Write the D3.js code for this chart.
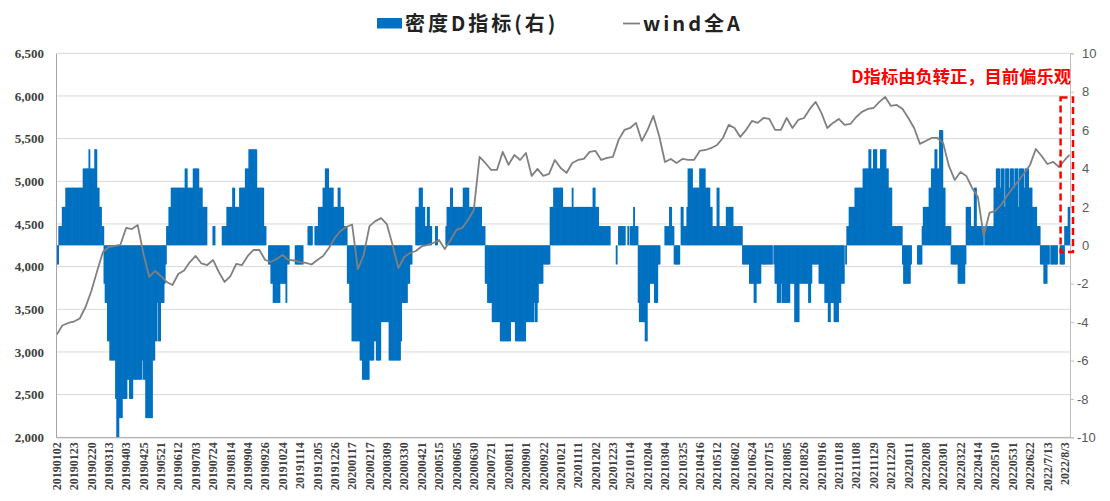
<!DOCTYPE html>
<html><head><meta charset="utf-8">
<script src="https://cdn.jsdelivr.net/npm/d3@7"></script>
<style>body{margin:0;background:#fff;}svg{display:block}</style>
</head><body><svg id="c" width="1110" height="501"></svg>
<script>
// ---- data ----
const tickLabels = ["20190102","20190123","20190220","20190313","20190403","20190425","20190521","20190612","20190703","20190724","20190814","20190904","20190926","20191024","20191114","20191205","20191226","20200117","20200217","20200309","20200330","20200421","20200515","20200605","20200630","20200721","20200811","20200901","20200922","20201021","20201111","20201202","20201223","20210114","20210204","20210304","20210325","20210416","20210512","20210602","20210624","20210715","20210805","20210826","20210916","20211018","20211108","20211129","20211220","20220111","20220208","20220301","20220322","20220414","20220510","20220531","20220622","2022/7/13","2022/8/3"];
const tickEvery = 15;          // one label every 15 trading days
const leftTicks = [2000,2500,3000,3500,4000,4500,5000,5500,6000,6500];
const rightTicks = [-10,-8,-6,-4,-2,0,2,4,6,8,10];

// 密度D指标 daily values, stored as runs [value, number of days]
const dRuns = [
[-1,2],[1,3],[2,3],[3,15],[4,5],[5,1],[4,4],[5,2],[3,2],[2,2],[1,2],
[-2,1],[-3,2],[-5,2],[-6,5],[-8,1],[-10,2],[-9,3],[-8,4],[-7,2],[-8,3],[-7,8],[-6,1],[-7,2],[-9,6],[-6,2],[-5,2],[-3,1],[-5,2],[-3,3],[-2,1],[-1,1],
[1,2],[2,2],[3,12],[4,2],[3,5],[4,5],[3,3],[2,4],[0,5],[1,2],[0,6],
[1,4],[2,5],[3,2],[2,4],[3,5],[4,3],[5,7],[3,6],[1,2],[0,2],
[-1,2],[-2,2],[-3,6],[-2,5],[-3,1],[-1,2],[0,5],[-1,7],[0,4],[1,4],[0,2],
[1,3],[2,4],[3,2],[4,3],[3,4],[2,4],[3,2],[2,3],[1,3],
[-2,2],[-3,2],[-5,7],[-6,2],[-7,6],[-6,4],[-5,2],[-6,4],[-4,7],[-6,10],[-5,1],[-3,5],[-2,2],[-1,2],
[0,3],[2,3],[3,3],[2,2],[1,2],[2,2],[1,2],[0,3],[1,2],[0,7],[1,1],[2,3],[3,2],[2,9],[3,5],[2,11],[1,3],
[-2,2],[-3,4],[-4,7],[-5,9],[-4,4],[-5,9],[-4,7],[-3,1],[-4,2],[-3,1],[-2,4],[-1,6],
[2,3],[3,8],[2,8],[3,1],[2,17],[3,2],[2,3],[1,10],[0,5],[-1,1],[0,1],[1,6],[0,2],[1,1],[0,1],[1,3],[2,1],[1,3],
[-3,1],[-4,5],[-5,2],[-3,2],[-2,4],[-3,3],[-1,2],[0,4],
[1,4],[2,2],[1,2],[-1,5],[0,1],[2,2],[1,3],[2,1],[4,4],[3,6],[4,5],[3,4],[2,2],[1,4],[3,2],[1,6],[2,6],[1,8],
[-1,6],[-2,4],[-3,2],[-2,4],[-1,10],[0,1],[-1,1],[-2,2],[-3,3],[-2,1],[-3,7],[-2,4],[-4,4],[-2,8],[-3,2],[-2,1],[-1,6],[-2,5],[-3,3],[-4,2],[-3,3],[-4,4],[-3,2],[-2,3],[0,1],[-1,1],
[1,2],[2,5],[3,7],[4,5],[5,2],[4,2],[5,3],[4,3],[5,5],[4,2],[3,3],[1,9],
[-1,1],[-2,6],[-1,1],[0,5],[-1,4],[1,1],[2,5],[3,2],[4,3],[5,2],[4,2],[6,3],[3,2],[1,5],[-1,6],[-2,6],[-1,1],
[2,4],[1,3],[3,2],[1,6],[0,1],[1,8],[3,2],[4,3],[3,1],[4,3],[2,1],[4,3],[3,1],[4,3],[3,1],[4,3],[2,1],[4,4],[3,1],[4,3],[3,3],[2,4],[1,3],
[-1,3],[-2,3],[-1,2],[0,1],[-1,6],[0,2],[-1,4],[1,3],[2,2]
];

// wind全A, read every 5 trading days (last value = last trading day)
const windA = [
3200,3310,3340,3357,3392,3527,3715,3949,4172,4230,
4242,4254,4453,4440,4487,4148,3879,3949,3890,3820,
3785,3914,3955,4054,4125,4037,4019,4078,3937,3820,
3890,4031,4019,4125,4195,4195,4078,4054,4090,4136,
4078,4072,4054,4043,4025,4078,4125,4219,4336,4418,
4465,4494,3970,4136,4475,4533,4568,4498,4252,3982,
4113,4160,4183,4236,4254,4277,4312,4207,4312,4430,
4453,4547,4664,5285,5215,5133,5133,5345,5192,5309,
5250,5332,5063,5145,5063,5086,5250,5156,5098,5215,
5250,5262,5345,5356,5250,5274,5285,5485,5602,5625,
5684,5473,5602,5766,5531,5227,5262,5215,5262,5250,
5250,5356,5367,5391,5426,5508,5661,5625,5520,5602,
5707,5684,5742,5731,5602,5602,5742,5625,5719,5742,
5848,5930,5801,5625,5684,5731,5661,5672,5754,5813,
5848,5859,5930,5989,5883,5895,5848,5742,5625,5438,
5473,5508,5508,5450,5180,5016,5110,5063,4922,4817,
4360,4629,4653,4723,4828,4922,5004,5098,5192,5379,
5297,5203,5227,5168,5250,5309
];
const windStep = 5;

// ---- build ----
const dValues = [];
dRuns.forEach(([v, n]) => { for (let k = 0; k < n; k++) dValues.push(v); });
const N = dValues.length;
const windIdx = windA.map((v, k) => Math.min(k * windStep, N - 1));

const svg = d3.select("#c");
const L = 56, R = 1070, T = 53.3, B = 437.3;

const x = d3.scaleBand().domain(d3.range(N)).range([L, R]).padding(0);
const bw = x.bandwidth();
const yL = d3.scaleLinear().domain([2000, 6500]).range([B, T]);
const yR = d3.scaleLinear().domain([-10, 10]).range([B, T]);

const serif = "'Liberation Serif','Times New Roman',serif";
const cjk = "'Noto Sans CJK SC','Noto Sans',sans-serif";

// gridlines
svg.append("g").selectAll("line").data(leftTicks).join("line")
  .attr("x1", L).attr("x2", R)
  .attr("y1", d => yL(d)).attr("y2", d => yL(d))
  .attr("stroke", "#d9d9d9").attr("stroke-width", 1);

// bars
svg.append("g").selectAll("rect").data(dValues.map((v, i) => ({i, v})).filter(d => d.v !== 0))
  .join("rect")
  .attr("x", d => x(d.i))
  .attr("width", bw + 0.7)
  .attr("y", d => yR(Math.max(0, d.v)))
  .attr("height", d => Math.abs(yR(d.v) - yR(0)))
  .attr("fill", "#0070C0");

// line
const line = d3.line().x((d, k) => x(windIdx[k]) + bw / 2).y(d => yL(d));
svg.append("path").datum(windA).attr("d", line)
  .attr("fill", "none").attr("stroke", "#808080").attr("stroke-width", 1.8)
  .attr("stroke-linejoin", "round");

// left axis
const gL = svg.append("g").attr("transform", `translate(${L},0)`)
  .call(d3.axisLeft(yL).tickValues(leftTicks).tickFormat(d3.format(",")).tickSize(0).tickPadding(12));
gL.select(".domain").attr("stroke", "#a6a6a6");
gL.selectAll("text").attr("font-family", serif).attr("font-weight", "bold")
  .attr("font-size", 13).attr("fill", "#404040");

// right axis
const gR = svg.append("g").attr("transform", `translate(${R},0)`)
  .call(d3.axisRight(yR).tickValues(rightTicks).tickFormat(d => d < 0 ? "-" + (-d) : String(d)).tickSize(4).tickPadding(8));
gR.select(".domain").attr("stroke", "#bfbfbf");
gR.selectAll(".tick line").attr("stroke", "#bfbfbf");
gR.selectAll("text").attr("font-family", "'Liberation Sans',Arial,sans-serif")
  .attr("font-size", 13).attr("fill", "#595959")
  .attr("x", d => d < 0 ? 7 : 12);

// bottom axis
const tickIdx = tickLabels.map((t, k) => k * tickEvery);
const gB = svg.append("g").attr("transform", `translate(0,${B})`)
  .call(d3.axisBottom(x).tickValues(tickIdx).tickFormat((d, k) => tickLabels[k]).tickSize(0));
gB.select(".domain").attr("stroke", "#a6a6a6");
gB.selectAll("text")
  .attr("transform", "rotate(-90)")
  .attr("x", -5).attr("y", 0).attr("dy", "0.35em")
  .style("text-anchor", "end")
  .attr("font-family", serif).attr("font-weight", "bold")
  .attr("font-size", 12).attr("fill", "#404040");

// legend
const lg = svg.append("g");
lg.append("rect").attr("x", 377).attr("y", 18).attr("width", 25).attr("height", 10.5).attr("fill", "#0070C0");
lg.append("text").attr("x", 405).attr("y", 30.5).text("密度D指标(右)")
  .attr("font-family", cjk).attr("font-weight", "bold").attr("font-size", 20)
  .attr("letter-spacing", 3).attr("fill", "#222");
lg.append("line").attr("x1", 623).attr("x2", 640).attr("y1", 23.5).attr("y2", 23.5)
  .attr("stroke", "#808080").attr("stroke-width", 1.8);
lg.append("text").attr("x", 643).attr("y", 30.5).text("wind全A")
  .attr("font-family", cjk).attr("font-weight", "bold").attr("font-size", 20)
  .attr("letter-spacing", 3).attr("fill", "#222");

// annotation
svg.append("text").attr("x", R + 1).attr("y", 82.5).text("D指标由负转正，目前偏乐观")
  .attr("text-anchor", "end").attr("font-family", cjk).attr("font-weight", "bold")
  .attr("font-size", 17.3).attr("fill", "#ff0000");

// dashed highlight box around the latest readings
const boxStart = N - 9;
svg.append("rect")
  .attr("x", x(boxStart) + 1).attr("y", yR(7.7))
  .attr("width", R + 3 - x(boxStart) - 1).attr("height", yR(-0.35) - yR(7.7))
  .attr("fill", "none").attr("stroke", "#ff0000").attr("stroke-width", 2.5)
  .attr("stroke-dasharray", "7,4");
</script>
</body></html>
